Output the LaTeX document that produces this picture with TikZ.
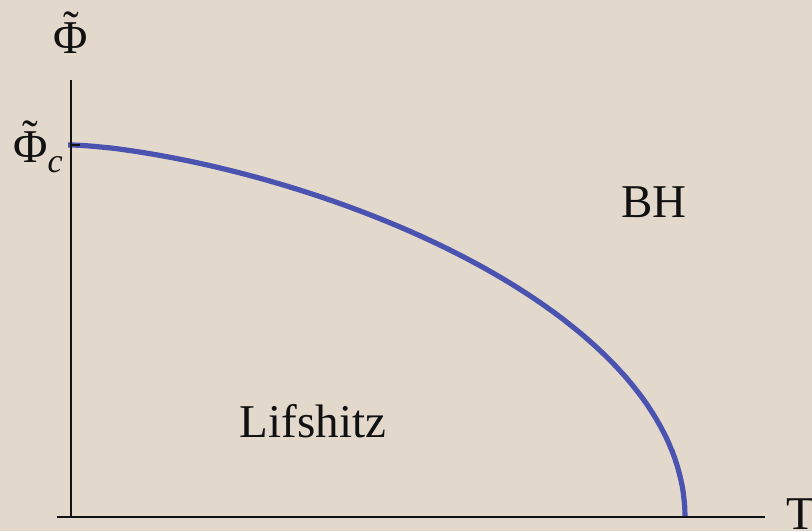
\documentclass[tikz,border=0pt]{standalone}
\usepackage{fontspec}
\setmainfont{Liberation Serif}
\usepackage{tikz}
\definecolor{parchment}{HTML}{E2D8CB}
\definecolor{phaseblue}{HTML}{4B53B1}
\definecolor{inkblack}{HTML}{111111}
\newcommand{\tildephi}{{\ooalign{Φ\cr\hidewidth\raisebox{0.2em}{\char"02DC}\hidewidth\cr}}}

\begin{document}
\begin{tikzpicture}[
  x=0.5pt, y=-0.5pt,
  every node/.style={font=\fontsize{23.5}{28}\selectfont, text=inkblack, inner sep=0pt},
  axis/.style={draw=inkblack, line width=0.75pt},
  boundary/.style={draw=phaseblue, line width=2.6pt},
  region/.style={anchor=base},
]
  \fill[parchment] (0,0) rectangle (812,531);
  \useasboundingbox (0,0) rectangle (812,531);

  % axes
  \coordinate (origin) at (71,517);
  \coordinate (ytop) at (71,80);
  \coordinate (xleft) at (57,517);
  \coordinate (xright) at (765,517);
  \coordinate (crit) at (71,145);
  \coordinate (tickend) at (80,145);
  \coordinate (curvestart) at (68,145);

  % phase boundary
  \draw[boundary] (curvestart) -- (crit)
    -- plot[domain=0.5:90, samples=160, smooth]
       ({71+614*(sin(\x))^(4/3)}, {517-372*cos(\x)});

  \draw[axis] (ytop) -- (origin);
  \draw[axis] (xleft) -- (xright);
  \draw[axis] (crit) -- (tickend);

  \node[region] (philabel) at (71,53) {\tildephi};
  \node[anchor=base east] (phiclabel) at (63,162)
    {\tildephi\raisebox{-5pt}{\fontsize{17}{20}\selectfont\itshape c}};
  \node[region] (bh) at (654,217) {BH};
  \node[region] (lifshitz) at (313,437) {Lifshitz};
  \node[anchor=base west] (tlabel) at (786,529) {T};
\end{tikzpicture}
\end{document}
